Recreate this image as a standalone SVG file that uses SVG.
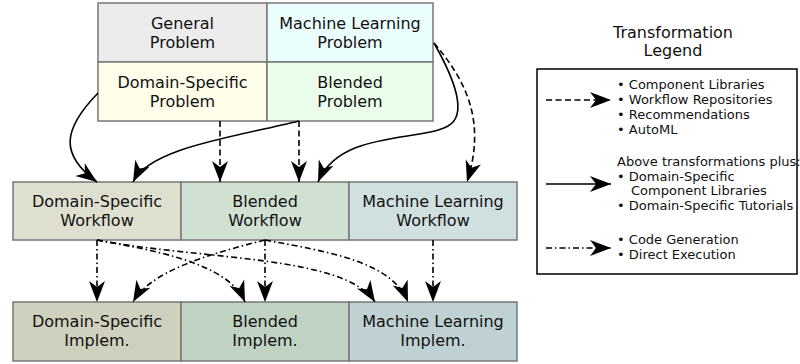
<svg xmlns="http://www.w3.org/2000/svg" width="800" height="364" viewBox="0 0 800 364">
  <defs>
    <marker id="head" markerUnits="userSpaceOnUse" markerWidth="24" markerHeight="18" refX="21" refY="8" orient="auto" viewBox="0 0 24 16">
      <path d="M21,8 L0,0 L6,8 L0,16 Z" fill="#000"/>
    </marker>
  </defs>
  <style>
    .box { stroke: #777; stroke-width: 1.5; }
    .lbl { font-family: "DejaVu Sans", sans-serif; font-size: 16px; fill: #111; text-anchor: middle; }
    .leg { font-family: "DejaVu Sans", sans-serif; font-size: 13px; fill: #111; }
    .edge { fill: none; stroke: #000; stroke-width: 1.6; marker-end: url(#head); }
    .dash { stroke-dasharray: 6 3.5; }
    .dashdot { stroke-dasharray: 6 3 1.5 3; }
  </style>
  <rect width="800" height="364" fill="#fff"/>

  <!-- problem grid -->
  <g id="general-problem">
    <rect class="box" x="98" y="3" width="169" height="59" fill="#ececec"/>
    <text class="lbl" x="182.5" y="29">General</text>
    <text class="lbl" x="182.5" y="48">Problem</text>
  </g>
  <g id="ml-problem">
    <rect class="box" x="267" y="3" width="166" height="59" fill="#ebfefe"/>
    <text class="lbl" x="350" y="29">Machine Learning</text>
    <text class="lbl" x="350" y="48">Problem</text>
  </g>
  <g id="ds-problem">
    <rect class="box" x="98" y="62" width="169" height="59" fill="#fefeeb"/>
    <text class="lbl" x="182.5" y="88">Domain-Specific</text>
    <text class="lbl" x="182.5" y="107">Problem</text>
  </g>
  <g id="blended-problem">
    <rect class="box" x="267" y="62" width="166" height="59" fill="#ebfdeb"/>
    <text class="lbl" x="350" y="88">Blended</text>
    <text class="lbl" x="350" y="107">Problem</text>
  </g>

  <!-- workflow row -->
  <g id="ds-workflow">
    <rect class="box" x="13" y="182" width="168" height="58" fill="#dfdfcf"/>
    <text class="lbl" x="97" y="207">Domain-Specific</text>
    <text class="lbl" x="97" y="226">Workflow</text>
  </g>
  <g id="blended-workflow">
    <rect class="box" x="181" y="182" width="168" height="58" fill="#d0e0d1"/>
    <text class="lbl" x="265" y="207">Blended</text>
    <text class="lbl" x="265" y="226">Workflow</text>
  </g>
  <g id="ml-workflow">
    <rect class="box" x="349" y="182" width="168" height="58" fill="#d0dfe0"/>
    <text class="lbl" x="433" y="207">Machine Learning</text>
    <text class="lbl" x="433" y="226">Workflow</text>
  </g>

  <!-- implementation row -->
  <g id="ds-implem">
    <rect class="box" x="13" y="302" width="168" height="59" fill="#cfd0be"/>
    <text class="lbl" x="97" y="327">Domain-Specific</text>
    <text class="lbl" x="97" y="346">Implem.</text>
  </g>
  <g id="blended-implem">
    <rect class="box" x="181" y="302" width="168" height="59" fill="#c0d3c2"/>
    <text class="lbl" x="265" y="327">Blended</text>
    <text class="lbl" x="265" y="346">Implem.</text>
  </g>
  <g id="ml-implem">
    <rect class="box" x="349" y="302" width="168" height="59" fill="#c0d1d3"/>
    <text class="lbl" x="433" y="327">Machine Learning</text>
    <text class="lbl" x="433" y="346">Implem.</text>
  </g>

  <!-- connectors -->
  <g id="connectors">
    <path class="edge" d="M98,93 C62,130 60,155 97,182"/>
    <path class="edge" d="M299,121 C230,138 150,148 133,182"/>
    <path class="edge dash" d="M220,121 L220,182"/>
    <path class="edge dash" d="M299,121 L299,182"/>
    <path class="edge" d="M434,43 C455,80 468,115 448,126 C420,142 340,130 318,182"/>
    <path class="edge dash" d="M434,43 C470,85 485,125 467,182"/>

    <path class="edge dashdot" d="M97,240 L97,302"/>
    <path class="edge dashdot" d="M97,240 C150,250 228,262 245,302"/>
    <path class="edge dashdot" d="M97,240 C200,260 345,255 375,302"/>
    <path class="edge dashdot" d="M265,240 L265,302"/>
    <path class="edge dashdot" d="M265,240 C205,255 150,272 133,302"/>
    <path class="edge dashdot" d="M265,240 C330,252 392,262 408,302"/>
    <path class="edge dashdot" d="M433,240 L433,302"/>
  </g>

  <!-- legend -->
  <g id="legend">
    <text class="lbl" x="673" y="38">Transformation</text>
    <text class="lbl" x="673" y="56">Legend</text>
    <rect x="537" y="69" width="260" height="205" fill="none" stroke="#000" stroke-width="1.5"/>
    <path class="edge dash" d="M546,100 L611,100"/>
    <path class="edge" d="M546,184 L611,184"/>
    <path class="edge dashdot" d="M546,248 L611,248"/>
    <text class="leg" x="617" y="89">• Component Libraries</text>
    <text class="leg" x="617" y="104">• Workflow Repositories</text>
    <text class="leg" x="617" y="119">• Recommendations</text>
    <text class="leg" x="617" y="134">• AutoML</text>
    <text class="leg" x="617" y="166">Above transformations plus:</text>
    <text class="leg" x="617" y="181">• Domain-Specific</text>
    <text class="leg" x="631" y="195">Component Libraries</text>
    <text class="leg" x="617" y="210">• Domain-Specific Tutorials</text>
    <text class="leg" x="617" y="244">• Code Generation</text>
    <text class="leg" x="617" y="259">• Direct Execution</text>
  </g>
</svg>
